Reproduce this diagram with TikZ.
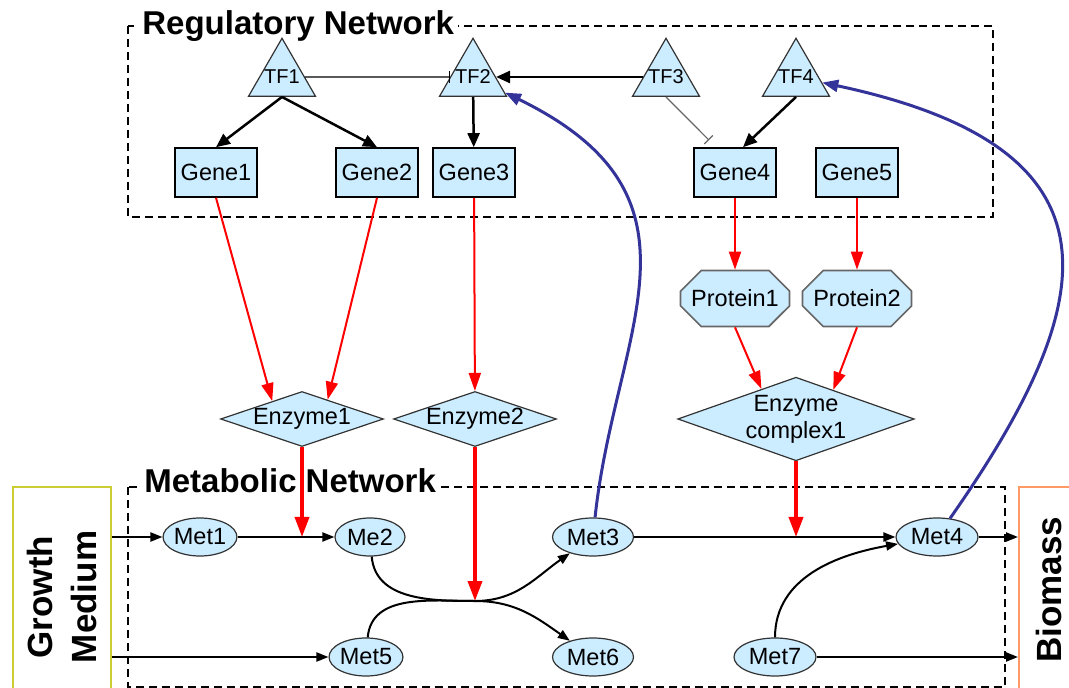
\documentclass[tikz,border=0pt]{standalone}
\usepackage{fontspec}
\setmainfont{Liberation Sans}
\usepackage{tikz}
\usetikzlibrary{positioning,shapes,arrows.meta}

\definecolor{molfill}{HTML}{CCECFF}
\definecolor{fbblue}{HTML}{333399}
\definecolor{mediumline}{HTML}{CCCC33}
\definecolor{biomassline}{HTML}{FF9966}

\newcommand{\molfont}{\fontsize{11.75}{13.5}\selectfont}

\begin{document}
\begin{tikzpicture}[
  x = 0.5pt,
  y = -0.5pt,
  on grid,
  tf/.style = {
    draw = black!80,
    line width = 0.6pt,
    fill = molfill,
    regular polygon,
    regular polygon sides = 3,
    minimum size = 38.7pt,
    inner sep = 0pt,
    font = \fontsize{10}{12}\selectfont,
  },
  gene/.style = {
    draw,
    line width = 0.8pt,
    fill = molfill,
    minimum width = 41pt,
    minimum height = 24.5pt,
    inner sep = 0pt,
    font = \molfont,
  },
  protein/.style = {
    draw = black!60,
    line width = 0.8pt,
    fill = molfill,
    chamfered rectangle,
    chamfered rectangle xsep = 6pt,
    chamfered rectangle ysep = 6pt,
    minimum width = 54.5pt,
    minimum height = 28pt,
    inner sep = 0pt,
    font = \molfont,
  },
  enzyme/.style = {
    draw = black!80,
    line width = 0.6pt,
    fill = molfill,
    diamond,
    aspect = 3,
    minimum width = 81.5pt,
    minimum height = 27.5pt,
    inner sep = 0pt,
    align = center,
    font = \molfont,
  },
  met/.style = {
    draw = black!80,
    line width = 0.6pt,
    fill = molfill,
    ellipse,
    minimum height = 19pt,
    inner sep = 0pt,
    font = \molfont,
  },
  title/.style = {
    fill = white,
    inner xsep = 2pt,
    inner ysep = 1pt,
    font = \bfseries\fontsize{16.5}{18}\selectfont,
  },
  pool/.style = {
    line width = 1pt,
    rotate = 90,
    align = center,
    font = \bfseries\fontsize{17.5}{22}\selectfont,
  },
  netbox/.style = {
    draw,
    line width = 0.7pt,
    dash pattern = on 4pt off 2.5pt,
  },
  act/.style = {line width = 1.25pt, -{Triangle[length=7pt,width=6pt]}},
  inh/.style = {line width = 0.6pt, -{Bar[width=6pt,line width=0.6pt]}},
  expr/.style = {red, line width = 1pt, -{Triangle[length=9pt,width=6pt]}},
  cat/.style = {red, line width = 1.8pt, -{Triangle[length=10pt,width=7pt]}},
  flow/.style = {line width = 1pt, -{Triangle[length=6pt,width=4.5pt]}},
  fb/.style = {fbblue, line width = 1.5pt, -{Triangle[length=8pt,width=6pt]}},
]

  \useasboundingbox (0,0) rectangle (1069,688);
  \clip (0,0) rectangle (1069,688);

  % regulatory network
  \draw[netbox] (128,26) rectangle (993,217);
  \node[title, anchor=base west] (regtitle) at (138,35) {Regulatory Network};

  \node[tf] (tf1) at (282,77) {\makebox[0pt]{TF1}};
  \node[tf] (tf2) [right=95.5pt of tf1] {\makebox[0pt]{TF2}};
  \node[tf] (tf3) [right=96.5pt of tf2] {\makebox[0pt]{TF3}};
  \node[tf] (tf4) [right=65pt of tf3] {\makebox[0pt]{TF4}};

  \node[gene] (gene1) at (216,172.5) {Gene1};
  \node[gene] (gene2) [right=80.5pt of gene1] {Gene2};
  \node[gene] (gene3) [right=48.5pt of gene2] {Gene3};
  \node[gene] (gene4) [right=130.5pt of gene3] {Gene4};
  \node[gene] (gene5) [right=61pt of gene4] {Gene5};

  \draw[inh] (tf1) -- (tf2);
  \draw[act] (tf3) -- (tf2);
  \draw[act] (tf1.south) -- (gene1.north);
  \draw[act] (tf1.south) -- (gene2.north);
  \draw[act] (tf2) -- (gene3);
  \draw[inh, draw=black!60, shorten >=5pt] (tf3.south) -- ([xshift=-9.5pt]gene4.north);
  \draw[act] (tf4.south) -- ([xshift=4pt]gene4.north);

  % proteins and enzymes
  \node[protein] (protein1) [below=63pt of gene4] {Protein1};
  \node[protein] (protein2) [below=63pt of gene5] {Protein2};

  \node[enzyme] (enzyme1) at (302,419) {Enzyme1};
  \node[enzyme] (enzyme2) [right=86.5pt of enzyme1] {Enzyme2};
  \node[enzyme, minimum width=116pt, minimum height=41pt, aspect=2.83]
    (cplx) [right=160.5pt of enzyme2] {Enzyme\\complex1};

  \draw[expr] (gene1.south) -- (enzyme1.149);
  \draw[expr] (gene2.south) -- (enzyme1.37);
  \draw[expr] (gene3) -- (enzyme2);
  \draw[expr] (gene4) -- (protein1);
  \draw[expr] (gene5) -- (protein2);
  \draw[expr] (protein1.south) -- (cplx.139);
  \draw[expr] (protein2.south) -- (cplx.38);

  % metabolic network
  \draw[netbox] (128,487) rectangle (1005,687);
  \node[title, anchor=base west] (mettitle) at (140,493) {Metabolic Network};

  \node[pool, draw=mediumline, minimum width=110pt, minimum height=49pt]
    (growth) at (62,597) {Growth\\Medium};
  \node[pool, draw=biomassline, minimum width=103pt, minimum height=30pt]
    (biomass) at (1049,590) {Biomass};

  \node[met, minimum width=33.5pt] (met1) at (200,537) {Met1};
  \node[met, minimum width=35pt] (me2) [right=85pt of met1] {Me2};
  \node[met, minimum width=40.5pt] (met3) [right=111.5pt of me2] {Met3};
  \node[met, minimum width=41pt] (met4) [right=172pt of met3] {Met4};
  \node[met, minimum width=34pt] (met5) at (366,657) {Met5};
  \node[met, minimum width=40.5pt] (met6) [right=113.5pt of met5] {Met6};
  \node[met, minimum width=41pt] (met7) [right=91pt of met6] {Met7};

  \coordinate (rxn1) at (enzyme1 |- met1);
  \coordinate (rxn2) at (475,601);
  \coordinate (rxn3) at (cplx |- met3);

  \draw[flow] (growth.south |- met1) -- (met1);
  \draw[flow] (growth.south |- met5) -- (met5);
  \draw[flow] (met1) -- (me2);
  \draw[flow] (met3) -- (met4);
  \draw[flow] (met4) -- (met4 -| biomass.north);
  \draw[flow] (met7) -- (met7 -| biomass.north);
  \draw[flow] (met7) to[out=90, in=190] (met4);
  \draw[flow] (me2) to[out=-85, in=180] (rxn2) to[out=0, in=145] (met6);
  \draw[flow] (met5) to[out=85, in=180] (rxn2) to[out=0, in=-145] (met3);

  \draw[cat] (enzyme1) -- (rxn1);
  \draw[cat] (enzyme2) -- (rxn2);
  \draw[cat] (cplx) -- (rxn3);

  % feedback to the transcription factors
  \draw[fb] (met3) to[out=84, in=-26, out distance=94pt, in distance=120pt] (tf2);
  \draw[fb] (met4) to[out=55, in=-12, out distance=133pt, in distance=158pt] (tf4);
\end{tikzpicture}
\end{document}
